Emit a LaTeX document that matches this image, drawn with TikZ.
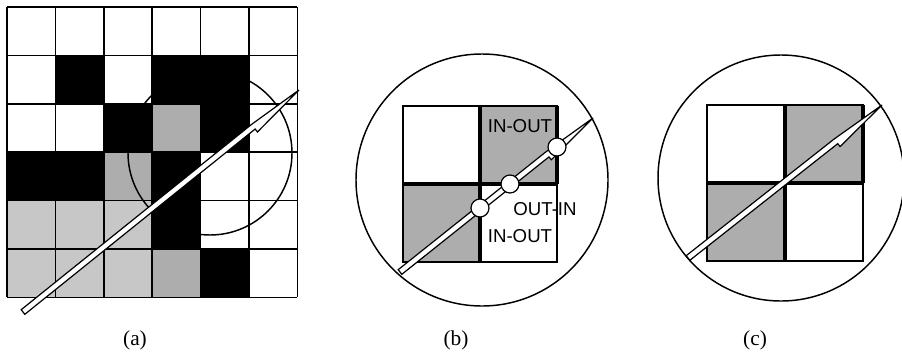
\documentclass[tikz,border=0pt]{standalone}
\usepackage{fontspec}
\setmainfont{Liberation Serif}
\newfontfamily\labelfont{Liberation Sans}
\usetikzlibrary{calc}

% slim vector arrow from #1 (tail) to #2 (tip), barb on one side
\newcommand{\vecarrow}[2]{%
  \coordinate (#1-barb) at ($(#2)!44pt!(#1)$);
  \draw[vecline] ($(#1)!2.2pt!90:(#2)$) -- ($(#1-barb)!2.2pt!-90:(#1)$) -- (#2)
    -- ($(#1-barb)!5pt!90:(#1)$) -- ($(#1-barb)!2.2pt!90:(#1)$)
    -- ($(#1)!2.2pt!-90:(#2)$) -- cycle;}

\begin{document}
\begin{tikzpicture}[x=0.75pt,y=-0.75pt,
  cellline/.style={line width=1.1pt},
  ring/.style={line width=1.1pt},
  thickline/.style={line width=3.2pt},
  lightcell/.style={fill=black!22},
  darkcell/.style={fill=black!32},
  vecline/.style={draw, fill=white, line width=0.9pt, line join=miter},
  crossing/.style={draw, circle, fill=white, line width=0.9pt, minimum size=13.5pt, inner sep=0pt},
  tag/.style={font=\labelfont\fontsize{14}{14}\selectfont, inner sep=0pt},
  caption/.style={font=\fontsize{16}{16}\selectfont}]
\useasboundingbox (0,0) rectangle (902,354);

% (a) grid of cells
\foreach \c/\r in {1/1,3/1,4/1,2/2,4/2,0/3,1/3,3/3,3/4,4/5}
  \fill[black] (7+48.4*\c,7+48.4*\r) rectangle ++(48.4,48.4);
\foreach \c/\r in {0/4,1/4,2/4,0/5,1/5,2/5}
  \fill[lightcell] (7+48.4*\c,7+48.4*\r) rectangle ++(48.4,48.4);
\foreach \c/\r in {3/2,2/3,3/5}
  \fill[darkcell] (7+48.4*\c,7+48.4*\r) rectangle ++(48.4,48.4);
\foreach \i in {0,...,6} {
  \draw[cellline] (7+48.4*\i,7) -- (7+48.4*\i,297.4);
  \draw[cellline] (7,7+48.4*\i) -- (297.4,7+48.4*\i);
}
\draw[ring] (210,153) circle[radius=82];
\coordinate (atail) at (23,312);
\coordinate (atip) at (299,90);
\vecarrow{atail}{atip}

% (b) close-up with crossings
\draw[ring] (482,180) circle[radius=126];
\fill[darkcell] (480,106) rectangle (557,184);
\fill[darkcell] (403,184) rectangle (480,262);
\draw[cellline] (403,106) rectangle (557,262);
\draw[thickline] (480,106) -- (480,262) (403,184) -- (557,184) (557,106) -- (557,184);
\coordinate (btail) at (400,272);
\coordinate (btip) at (593,118);
\vecarrow{btail}{btip}
\node[crossing] (x1) at (480,208) {};
\node[crossing] (x2) at (510,184) {};
\node[crossing] (x3) at (557,147) {};
\node[tag] (inouttop) at (520,126) {IN-OUT};
\node[tag] (outin) at (545,209) {OUT-IN};
\node[tag] (inoutbot) at (520,236) {IN-OUT};

% (c) close-up through the corner
\draw[ring] (781,178) circle[radius=123];
\fill[darkcell] (785,105) rectangle (863,183);
\fill[darkcell] (707,183) rectangle (785,261);
\draw[cellline] (707,105) rectangle (863,261);
\draw[thickline] (785,105) -- (785,261) (707,183) -- (863,183) (863,105) -- (863,183);
\coordinate (ctail) at (688,258);
\coordinate (ctip) at (882,105);
\vecarrow{ctail}{ctip}

\node[caption] (capa) at (135,340) {(a)};
\node[caption] (capb) at (456,340) {(b)};
\node[caption] (capc) at (755,340) {(c)};
\end{tikzpicture}
\end{document}
